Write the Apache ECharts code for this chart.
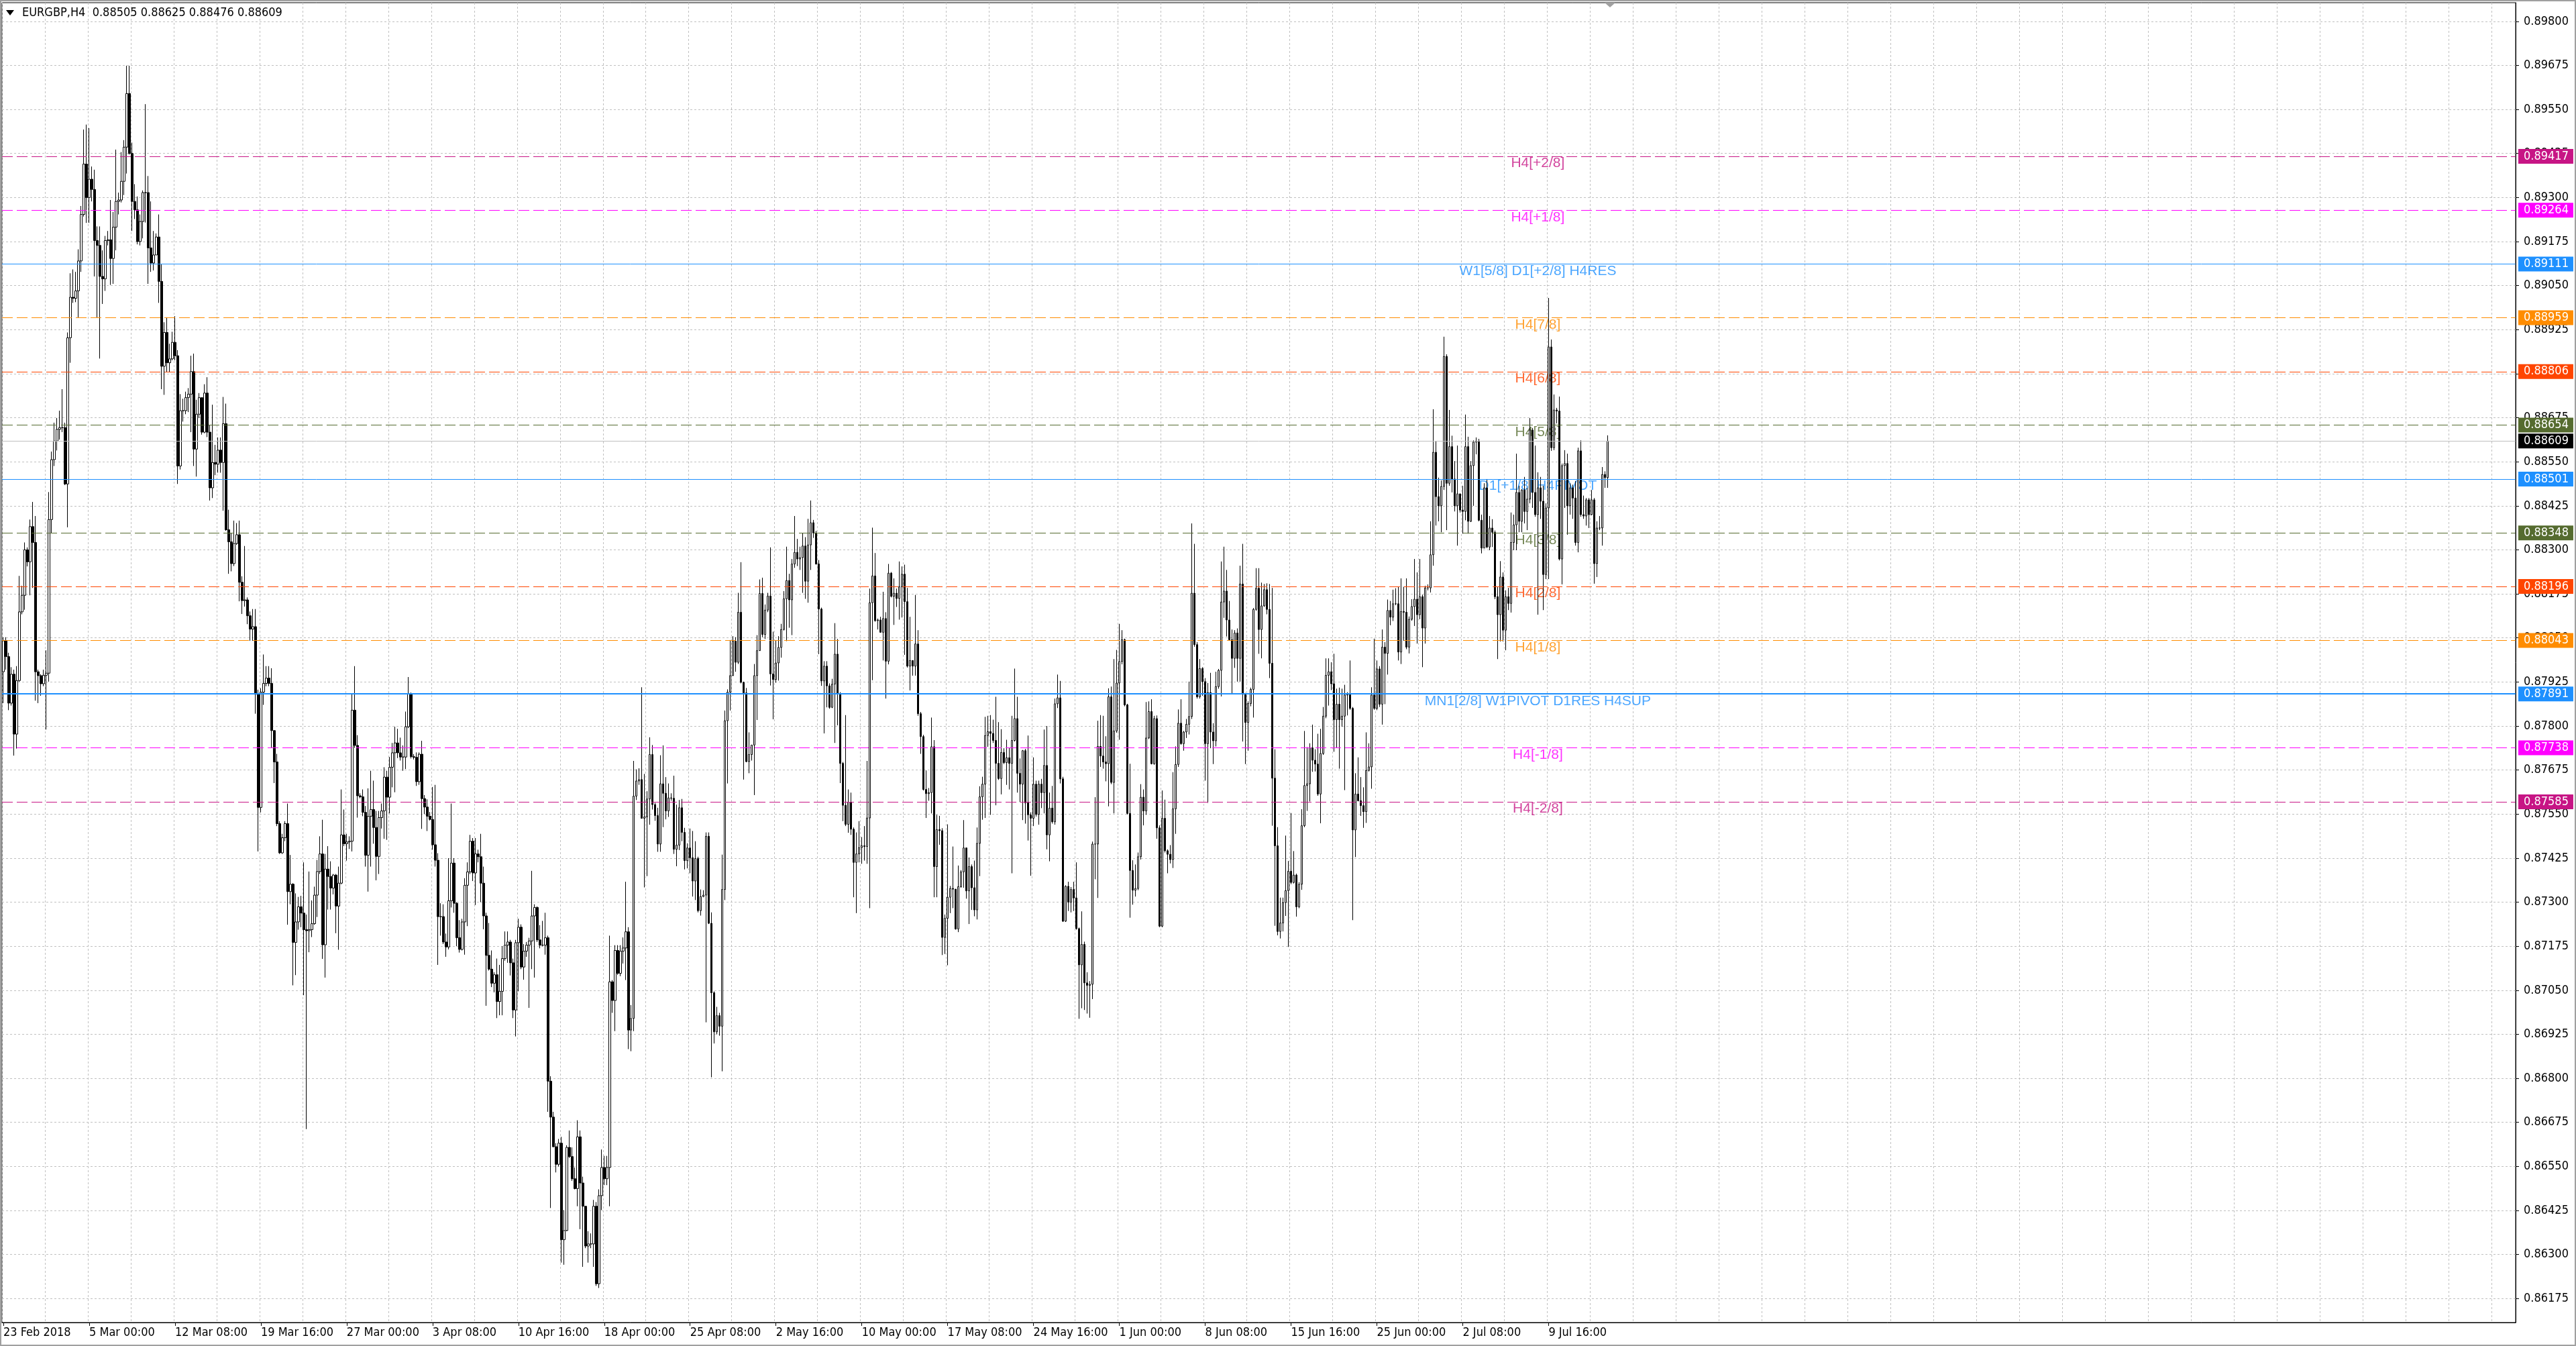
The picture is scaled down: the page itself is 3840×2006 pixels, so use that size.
<!DOCTYPE html>
<html>
<head>
<meta charset="utf-8">
<title>EURGBP,H4</title>
<script src="https://cdn.jsdelivr.net/npm/echarts@6.0.0/dist/echarts.min.js"></script>
<style>
  html, body { margin: 0; padding: 0; background: #ffffff; }
  #chart { width: 3840px; height: 2006px; }
</style>
</head>
<body>
<div id="chart"></div>
<script>
// EURGBP H4 candles, prices in points (1e-5)
var symbolName = 'EURGBP,H4';

var xTickLabels = ['23 Feb 2018', '5 Mar 00:00', '12 Mar 08:00', '19 Mar 16:00', '27 Mar 00:00',
  '3 Apr 08:00', '10 Apr 16:00', '18 Apr 00:00', '25 Apr 08:00', '2 May 16:00', '10 May 00:00',
  '17 May 08:00', '24 May 16:00', '1 Jun 00:00', '8 Jun 08:00', '15 Jun 16:00', '25 Jun 00:00',
  '2 Jul 08:00', '9 Jul 16:00'];

var yTickValues = [0.86175, 0.86300, 0.86425, 0.86550, 0.86675, 0.86800, 0.86925, 0.87050,
  0.87175, 0.87300, 0.87425, 0.87550, 0.87675, 0.87800, 0.87925, 0.88050, 0.88175, 0.88300,
  0.88425, 0.88550, 0.88675, 0.88800, 0.88925, 0.89050, 0.89175, 0.89300, 0.89425, 0.89550,
  0.89675, 0.89800];

var opens = [
  87954, 88042, 87997, 87865, 87947, 87777, 87929, 88124, 88171, 88300,
  88266, 88366, 88321, 87954, 87943, 87920, 87944, 87950, 88386, 88556,
  88609, 88642, 88647, 88647, 88487, 88902, 89017, 89014, 89035, 89120,
  89252, 89395, 89300, 89352, 89323, 89178, 89164, 89076, 89069, 89178,
  89180, 89127, 89216, 89289, 89293, 89346, 89443, 89595, 89425, 89289,
  89265, 89175, 89232, 89314, 89314, 89157, 89114, 89137, 89188, 89062,
  88821, 88917, 88831, 88842, 88889, 88851, 88538, 88695, 88695, 88732,
  88742, 88806, 88586, 88685, 88732, 88634, 88745, 88634, 88476, 88548,
  88543, 88583, 88548, 88658, 88357, 88323, 88261, 88318, 88343, 88208,
  88156, 88158, 88113, 88075, 88082, 87890, 87569, 87896, 87921, 87936,
  87921, 87787, 87698, 87523, 87440, 87483, 87523, 87330, 87351, 87186,
  87244, 87287, 87269, 87222, 87219, 87222, 87239, 87320, 87387, 87437,
  87179, 87394, 87373, 87340, 87377, 87289, 87354, 87491, 87466, 87471,
  87473, 87845, 87745, 87602, 87599, 87555, 87433, 87544, 87563, 87512,
  87430, 87540, 87559, 87655, 87598, 87683, 87724, 87752, 87724, 87712,
  87712, 87798, 87892, 87713, 87711, 87642, 87720, 87594, 87570, 87544,
  87535, 87463, 87419, 87259, 87259, 87187, 87173, 87304, 87411, 87297,
  87199, 87166, 87244, 87348, 87386, 87473, 87383, 87437, 87429, 87354,
  87261, 87149, 87110, 87070, 87094, 87018, 87047, 87140, 87178, 87187,
  87128, 86994, 87185, 87229, 87116, 87161, 87178, 87190, 87261, 87285,
  87193, 87178, 87178, 87199, 86792, 86690, 86606, 86556, 86616, 86342,
  86368, 86604, 86578, 86515, 86487, 86634, 86503, 86437, 86324, 86330,
  86330, 86437, 86217, 86467, 86547, 86515, 86547, 87074, 87021, 87163,
  87098, 87161, 87170, 87216, 86937, 86970, 87601, 87644, 87648, 87538,
  87542, 87593, 87719, 87577, 87546, 87465, 87636, 87609, 87559, 87596,
  87595, 87450, 87462, 87568, 87498, 87418, 87454, 87426, 87360, 87424,
  87276, 87316, 87320, 87487, 87240, 87043, 86932, 86978, 86948, 87336,
  87815, 87896, 87943, 88041, 87981, 88123, 87924, 87894, 87699, 87719,
  87746, 87943, 88014, 88176, 88060, 88129, 88169, 87948, 87932, 87979,
  88023, 88074, 88161, 88213, 88158, 88260, 88293, 88274, 88278, 88311,
  88211, 88314, 88377, 88348, 88260, 88132, 87928, 87970, 87914, 87853,
  87919, 88004, 87892, 87694, 87575, 87521, 87584, 87507, 87413, 87437,
  87455, 87460, 87458, 87539, 88150, 88226, 88099, 88101, 88066, 88105,
  87984, 88234, 88168, 88177, 88162, 88195, 88231, 88153, 87970, 87986,
  87970, 88033, 87835, 87770, 87620, 87608, 87611, 87741, 87401, 87506,
  87503, 87200, 87254, 87314, 87339, 87337, 87224, 87344, 87386, 87454,
  87332, 87401, 87341, 87278, 87467, 87599, 87635, 87773, 87784, 87779,
  87759, 87694, 87651, 87725, 87696, 87710, 87694, 87759, 87821, 87666,
  87635, 87730, 87582, 87548, 87538, 87635, 87549, 87635, 87611, 87688,
  87491, 87567, 87528, 87863, 87880, 87650, 87246, 87345, 87300, 87336,
  87312, 87225, 87122, 87180, 87071, 87064, 87067, 87465, 87465, 87742,
  87715, 87698, 87693, 87883, 87640, 87786, 87922, 87983, 88045, 87860,
  87552, 87390, 87334, 87339, 87429, 87598, 87559, 87766, 87841, 87693,
  87821, 87511, 87232, 87538, 87446, 87436, 87421, 87565, 87691, 87808,
  87750, 87783, 87805, 87827, 88177, 88031, 87883, 87963, 87926, 87750,
  87895, 87783, 87758, 87912, 87958, 88152, 88183, 88101, 88045, 87992,
  88064, 87992, 88203, 87890, 87810, 87864, 87904, 88131, 88191, 88074,
  88141, 88187, 88131, 87978, 87652, 87460, 87217, 87241, 87299, 87333,
  87388, 87356, 87377, 87287, 87351, 87517, 87631, 87636, 87738, 87703,
  87692, 87607, 87722, 87828, 87944, 87954, 87920, 87818, 87862, 87818,
  87828, 87888, 87889, 87850, 87505, 87607, 87588, 87574, 87557, 87674,
  87684, 87888, 87850, 87962, 87862, 88024, 88006, 88128, 88109, 88147,
  88147, 88010, 88125, 88123, 88024, 88103, 88139, 88160, 88116, 88167,
  88078, 88192, 88192, 88286, 88577, 88451, 88425, 88480, 88849, 88489,
  88593, 88501, 88425, 88459, 88413, 88409, 88593, 88381, 88539, 88606,
  88609, 88384, 88305, 88476, 88308, 88362, 88350, 88167, 88116, 88223,
  88072, 88167, 88148, 88321, 88371, 88463, 88381, 88470, 88409, 88444,
  88640, 88463, 88400, 88476, 88438, 88230, 88419, 88876, 88590, 88697,
  88694, 88274, 88539, 88545, 88425, 88476, 88447, 88321, 88581, 88400,
  88396, 88442, 88400, 88442, 88261, 88362, 88362, 88514, 88505
];

var highs = [
  88052, 88052, 88008, 87967, 87960, 87970, 88226, 88198, 88321, 88307,
  88386, 88436, 88396, 87960, 87947, 87960, 88015, 88464, 88579, 88661,
  88674, 88695, 88756, 88661, 88917, 89085, 89096, 89089, 89153, 89276,
  89493, 89507, 89497, 89388, 89379, 89218, 89218, 89150, 89191, 89205,
  89293, 89259, 89436, 89314, 89429, 89463, 89674, 89674, 89456, 89338,
  89303, 89252, 89320, 89565, 89361, 89289, 89205, 89198, 89252, 89110,
  88946, 88960, 88885, 88919, 88963, 88867, 88742, 88729, 88749, 88759,
  88851, 88857, 88726, 88745, 88732, 88770, 88790, 88655, 88712, 88598,
  88619, 88619, 88734, 88715, 88414, 88347, 88383, 88376, 88383, 88225,
  88311, 88165, 88125, 88132, 88132, 87903, 87907, 88003, 87970, 87970,
  87964, 87788, 87721, 87530, 87494, 87530, 87580, 87434, 87354, 87325,
  87315, 87318, 87413, 87265, 87387, 87305, 87344, 87420, 87487, 87534,
  87437, 87459, 87416, 87380, 87380, 87401, 87620, 87563, 87494, 87487,
  87891, 87970, 87774, 87609, 87620, 87573, 87623, 87673, 87645, 87559,
  87559, 87580, 87683, 87673, 87712, 87752, 87798, 87792, 87767, 87745,
  87841, 87939, 87895, 87720, 87725, 87725, 87758, 87604, 87592, 87556,
  87627, 87633, 87439, 87297, 87294, 87211, 87425, 87580, 87425, 87300,
  87249, 87253, 87368, 87413, 87491, 87482, 87482, 87449, 87494, 87401,
  87270, 87241, 87163, 87101, 87140, 87122, 87175, 87217, 87217, 87193,
  87140, 87193, 87253, 87237, 87181, 87187, 87199, 87389, 87294, 87288,
  87235, 87247, 87270, 87205, 86806, 86705, 86616, 86628, 86634, 86426,
  86610, 86652, 86604, 86547, 86681, 86652, 86521, 86437, 86366, 86360,
  86455, 86449, 86485, 86598, 86580, 86580, 87205, 87079, 87178, 87178,
  87178, 87200, 87358, 87229, 87008, 87701, 87677, 87680, 87910, 87664,
  87615, 87768, 87746, 87582, 87568, 87717, 87745, 87655, 87637, 87609,
  87659, 87577, 87590, 87593, 87511, 87467, 87509, 87502, 87473, 87429,
  87336, 87334, 87498, 87498, 87271, 87047, 87003, 86986, 87435, 87844,
  87904, 88044, 88055, 88052, 88178, 88265, 87926, 87908, 87782, 87746,
  87976, 88058, 88216, 88221, 88145, 88178, 88307, 88068, 88044, 88055,
  88090, 88183, 88309, 88232, 88274, 88396, 88331, 88309, 88347, 88336,
  88388, 88440, 88385, 88354, 88271, 88136, 87984, 87984, 87921, 87934,
  88092, 88047, 87896, 87698, 87831, 87620, 87611, 87512, 87498, 87530,
  87485, 87516, 87701, 88190, 88363, 88291, 88105, 88110, 88181, 88123,
  88260, 88237, 88219, 88190, 88267, 88253, 88258, 88192, 88110, 87986,
  88172, 88072, 87840, 87775, 87674, 87624, 87824, 87760, 87548, 87545,
  87510, 87265, 87521, 87346, 87458, 87337, 87404, 87391, 87533, 87455,
  87427, 87407, 87418, 87512, 87629, 87656, 87826, 87829, 87831, 87818,
  87883, 87811, 87791, 87737, 87761, 87739, 87829, 87963, 87883, 87708,
  87732, 87735, 87773, 87555, 87711, 87645, 87645, 87650, 87790, 87800,
  87611, 87630, 87878, 87946, 87928, 87656, 87348, 87358, 87343, 87358,
  87413, 87228, 87274, 87188, 87101, 87076, 87472, 87598, 87815, 87831,
  87829, 87771, 87907, 87912, 87990, 88016, 88090, 88072, 88048, 87863,
  87693, 87419, 87407, 87441, 87635, 87620, 87868, 87870, 87876, 87829,
  87830, 87518, 87617, 87591, 87450, 87462, 87669, 87742, 87847, 87876,
  87786, 87820, 87926, 88375, 88317, 88038, 87990, 87967, 87936, 87922,
  87951, 87808, 87954, 87962, 88267, 88309, 88243, 88155, 88074, 88072,
  88077, 88255, 88317, 87894, 87870, 87909, 88135, 88248, 88248, 88207,
  88203, 88205, 88203, 88192, 87734, 87513, 87313, 87313, 87489, 87417,
  87553, 87445, 87381, 87357, 87564, 87786, 87740, 87751, 87804, 87734,
  87778, 87792, 87854, 87992, 87992, 87981, 88005, 87906, 87909, 87906,
  87917, 87896, 87986, 87854, 87666, 87711, 87655, 87626, 87782, 87751,
  87910, 88048, 87986, 87970, 88074, 88038, 88159, 88155, 88187, 88191,
  88195, 88219, 88195, 88219, 88111, 88160, 88274, 88236, 88274, 88173,
  88198, 88202, 88381, 88699, 88609, 88505, 88497, 88905, 88855, 88697,
  88624, 88552, 88596, 88459, 88482, 88684, 88621, 88552, 88611, 88619,
  88615, 88400, 88489, 88501, 88396, 88387, 88355, 88194, 88268, 88236,
  88185, 88192, 88406, 88400, 88573, 88482, 88472, 88507, 88476, 88674,
  88646, 88596, 88520, 88507, 88482, 88432, 89015, 88897, 88741, 88703,
  88735, 88545, 88583, 88573, 88489, 88485, 88495, 88590, 88611, 88454,
  88447, 88447, 88470, 88447, 88381, 88396, 88535, 88523, 88625
];

var lows = [
  87865, 87960, 87845, 87858, 87716, 87736, 87926, 88117, 88130, 88253,
  88171, 88192, 87872, 87865, 87886, 87913, 87790, 87926, 88348, 88538,
  88582, 88613, 88634, 88484, 88364, 88831, 89001, 89003, 88960, 89089,
  89246, 89228, 89228, 89289, 89076, 88960, 88843, 88998, 89035, 89164,
  89052, 89055, 89150, 89252, 89286, 89307, 89368, 89422, 89205, 89239,
  89167, 89164, 89184, 89229, 89055, 89089, 89093, 89137, 89001, 88756,
  88740, 88804, 88804, 88838, 88838, 88487, 88528, 88664, 88685, 88691,
  88634, 88538, 88508, 88674, 88627, 88631, 88620, 88440, 88447, 88512,
  88519, 88519, 88411, 88354, 88232, 88239, 88254, 88314, 88154, 88118,
  88139, 88089, 88042, 88042, 87835, 87444, 87555, 87860, 87913, 87913,
  87738, 87638, 87516, 87437, 87437, 87473, 87236, 87294, 87064, 87093,
  87222, 87229, 87036, 86656, 87158, 87201, 87236, 87258, 87380, 87139,
  87086, 87279, 87279, 87322, 87212, 87165, 87351, 87459, 87418, 87451,
  87444, 87738, 87540, 87595, 87544, 87401, 87330, 87401, 87466, 87362,
  87380, 87509, 87480, 87477, 87552, 87626, 87612, 87709, 87702, 87673,
  87678, 87794, 87708, 87705, 87630, 87633, 87508, 87550, 87502, 87532,
  87449, 87401, 87122, 87205, 87181, 87145, 87166, 87285, 87270, 87175,
  87157, 87163, 87151, 87232, 87380, 87360, 87292, 87413, 87300, 87223,
  87006, 87106, 87059, 87044, 86971, 86979, 86979, 87134, 87128, 87092,
  86971, 86919, 87047, 87110, 87080, 87145, 87000, 87110, 87086, 87187,
  87169, 87175, 87151, 86705, 86432, 86604, 86533, 86550, 86277, 86271,
  86366, 86574, 86509, 86485, 86437, 86372, 86265, 86318, 86277, 86318,
  86265, 86211, 86205, 86426, 86497, 86497, 86437, 86986, 86934, 87094,
  87090, 87126, 87079, 86883, 86877, 86934, 87590, 87633, 87538, 87342,
  87374, 87520, 87563, 87531, 87443, 87443, 87513, 87535, 87542, 87588,
  87437, 87402, 87448, 87473, 87393, 87396, 87382, 87316, 87306, 87271,
  87262, 87314, 86959, 87238, 86803, 86899, 86925, 86921, 86820, 87306,
  87637, 87844, 87943, 87954, 87976, 87921, 87648, 87697, 87666, 87702,
  87604, 87817, 88014, 88052, 88047, 88123, 87915, 87819, 87923, 87929,
  87994, 88071, 88041, 88079, 88058, 88249, 88254, 88243, 88178, 88161,
  88150, 88243, 88334, 88258, 88004, 87914, 87779, 87853, 87849, 87851,
  87752, 87802, 87638, 87530, 87516, 87497, 87491, 87314, 87269, 87413,
  87409, 87418, 87409, 87283, 87930, 88096, 88074, 88065, 87986, 87878,
  87975, 88165, 88087, 88138, 88102, 88108, 88002, 87966, 87901, 87943,
  87943, 87829, 87721, 87617, 87539, 87588, 87552, 87314, 87314, 87463,
  87150, 87153, 87121, 87269, 87283, 87222, 87215, 87341, 87341, 87310,
  87238, 87278, 87260, 87251, 87374, 87534, 87539, 87741, 87548, 87752,
  87575, 87647, 87606, 87692, 87633, 87620, 87382, 87756, 87611, 87584,
  87533, 87523, 87475, 87375, 87516, 87543, 87520, 87567, 87552, 87450,
  87416, 87523, 87520, 87851, 87637, 87244, 87244, 87275, 87271, 87275,
  87222, 86969, 86999, 86994, 86984, 86972, 87025, 87365, 87312, 87684,
  87679, 87643, 87572, 87635, 87552, 87781, 87761, 87975, 87856, 87549,
  87256, 87293, 87316, 87334, 87421, 87518, 87548, 87763, 87691, 87690,
  87480, 87229, 87229, 87441, 87382, 87410, 87397, 87494, 87684, 87747,
  87730, 87766, 87776, 87820, 88025, 87878, 87878, 87886, 87645, 87582,
  87737, 87692, 87742, 87906, 87884, 88107, 88054, 88042, 87890, 87965,
  87926, 87926, 87756, 87692, 87730, 87856, 87824, 88127, 88005, 87992,
  88138, 88117, 87936, 87517, 87233, 87206, 87197, 87217, 87261, 87173,
  87351, 87353, 87259, 87283, 87335, 87513, 87559, 87586, 87670, 87671,
  87602, 87524, 87718, 87822, 87858, 87902, 87727, 87738, 87679, 87798,
  87618, 87830, 87846, 87249, 87428, 87586, 87545, 87511, 87525, 87671,
  87622, 87846, 87845, 87854, 87804, 87862, 87946, 88086, 88098, 88143,
  87986, 87976, 88042, 88018, 88006, 88099, 88084, 88034, 88103, 87967,
  88034, 88185, 88179, 88255, 88369, 88381, 88350, 88470, 88356, 88482,
  88463, 88409, 88312, 88406, 88346, 88384, 88346, 88379, 88425, 88571,
  88381, 88290, 88305, 88305, 88299, 88308, 88160, 87990, 88040, 88040,
  88015, 88129, 88122, 88299, 88299, 88350, 88350, 88375, 88356, 88432,
  88419, 88394, 88116, 88388, 88129, 88217, 88217, 88581, 88583, 88659,
  88270, 88202, 88419, 88343, 88400, 88388, 88312, 88293, 88394, 88388,
  88369, 88362, 88398, 88204, 88223, 88356, 88312, 88476, 88476
];

var closes = [
  88042, 87997, 87865, 87947, 87777, 87929, 88124, 88171, 88300, 88266,
  88366, 88321, 87954, 87943, 87920, 87944, 87950, 88386, 88556, 88609,
  88642, 88647, 88647, 88487, 88902, 89017, 89014, 89035, 89120, 89252,
  89395, 89300, 89352, 89323, 89178, 89164, 89076, 89069, 89178, 89180,
  89127, 89216, 89289, 89293, 89346, 89443, 89595, 89425, 89289, 89265,
  89175, 89232, 89314, 89314, 89157, 89114, 89137, 89188, 89062, 88821,
  88917, 88831, 88842, 88889, 88851, 88538, 88695, 88695, 88732, 88742,
  88806, 88586, 88685, 88732, 88634, 88745, 88634, 88476, 88548, 88543,
  88583, 88548, 88658, 88357, 88323, 88261, 88318, 88343, 88208, 88156,
  88158, 88113, 88075, 88082, 87890, 87569, 87896, 87921, 87936, 87921,
  87787, 87698, 87523, 87440, 87483, 87523, 87330, 87351, 87186, 87244,
  87287, 87269, 87222, 87219, 87222, 87239, 87320, 87387, 87437, 87179,
  87394, 87373, 87340, 87377, 87289, 87354, 87491, 87466, 87471, 87473,
  87845, 87745, 87602, 87599, 87555, 87433, 87544, 87563, 87512, 87430,
  87540, 87559, 87655, 87598, 87683, 87724, 87752, 87724, 87712, 87712,
  87798, 87892, 87713, 87711, 87642, 87720, 87594, 87570, 87544, 87535,
  87463, 87419, 87259, 87259, 87187, 87173, 87304, 87411, 87297, 87199,
  87166, 87244, 87348, 87386, 87473, 87383, 87437, 87429, 87354, 87261,
  87149, 87110, 87070, 87094, 87018, 87047, 87140, 87178, 87187, 87128,
  86994, 87185, 87229, 87116, 87161, 87178, 87190, 87261, 87285, 87193,
  87178, 87178, 87199, 86792, 86690, 86606, 86556, 86616, 86342, 86368,
  86604, 86578, 86515, 86487, 86634, 86503, 86437, 86324, 86330, 86330,
  86437, 86217, 86467, 86547, 86515, 86547, 87074, 87021, 87163, 87098,
  87161, 87170, 87216, 86937, 86970, 87601, 87644, 87648, 87538, 87542,
  87593, 87719, 87577, 87546, 87465, 87636, 87609, 87559, 87596, 87595,
  87450, 87462, 87568, 87498, 87418, 87454, 87426, 87360, 87424, 87276,
  87316, 87320, 87487, 87240, 87043, 86932, 86978, 86948, 87336, 87815,
  87896, 87943, 88041, 87981, 88123, 87924, 87894, 87699, 87719, 87746,
  87943, 88014, 88176, 88060, 88129, 88169, 87948, 87932, 87979, 88023,
  88074, 88161, 88213, 88158, 88260, 88293, 88274, 88278, 88311, 88211,
  88314, 88377, 88348, 88260, 88132, 87928, 87970, 87914, 87853, 87919,
  88004, 87892, 87694, 87575, 87521, 87584, 87507, 87413, 87437, 87455,
  87460, 87458, 87539, 88150, 88226, 88099, 88101, 88066, 88105, 87984,
  88234, 88168, 88177, 88162, 88195, 88231, 88153, 87970, 87986, 87970,
  88033, 87835, 87770, 87620, 87608, 87611, 87741, 87401, 87506, 87503,
  87200, 87254, 87314, 87339, 87337, 87224, 87344, 87386, 87454, 87332,
  87401, 87341, 87278, 87467, 87599, 87635, 87773, 87784, 87779, 87759,
  87694, 87651, 87725, 87696, 87710, 87694, 87759, 87821, 87666, 87635,
  87730, 87582, 87548, 87538, 87635, 87549, 87635, 87611, 87688, 87491,
  87567, 87528, 87863, 87880, 87650, 87246, 87345, 87300, 87336, 87312,
  87225, 87122, 87180, 87071, 87064, 87067, 87465, 87465, 87742, 87715,
  87698, 87693, 87883, 87640, 87786, 87922, 87983, 88045, 87860, 87552,
  87390, 87334, 87339, 87429, 87598, 87559, 87766, 87841, 87693, 87821,
  87511, 87232, 87538, 87446, 87436, 87421, 87565, 87691, 87808, 87750,
  87783, 87805, 87827, 88177, 88031, 87883, 87963, 87926, 87750, 87895,
  87783, 87758, 87912, 87958, 88152, 88183, 88101, 88045, 87992, 88064,
  87992, 88203, 87890, 87810, 87864, 87904, 88131, 88191, 88074, 88141,
  88187, 88131, 87978, 87652, 87460, 87217, 87241, 87299, 87333, 87388,
  87356, 87377, 87287, 87351, 87517, 87631, 87636, 87738, 87703, 87692,
  87607, 87722, 87828, 87944, 87954, 87920, 87818, 87862, 87818, 87828,
  87888, 87889, 87850, 87505, 87607, 87588, 87574, 87557, 87674, 87684,
  87888, 87850, 87962, 87862, 88024, 88006, 88128, 88109, 88147, 88147,
  88010, 88125, 88123, 88024, 88103, 88139, 88160, 88116, 88167, 88078,
  88192, 88192, 88286, 88577, 88451, 88425, 88480, 88849, 88489, 88593,
  88501, 88425, 88459, 88413, 88409, 88593, 88381, 88539, 88606, 88609,
  88384, 88305, 88476, 88308, 88362, 88350, 88167, 88116, 88223, 88072,
  88167, 88148, 88321, 88371, 88463, 88381, 88470, 88409, 88444, 88640,
  88463, 88400, 88476, 88438, 88230, 88419, 88876, 88590, 88697, 88694,
  88274, 88539, 88545, 88425, 88476, 88447, 88321, 88581, 88400, 88396,
  88442, 88400, 88442, 88261, 88362, 88362, 88514, 88505, 88609
];

// Murrey / pivot levels drawn by the indicator
var levelPrices = [0.89417, 0.89264, 0.89111, 0.88959, 0.88806, 0.88654, 0.88501,
  0.88348, 0.88196, 0.88043, 0.87891, 0.87738, 0.87585];
var levelNames = ['H4[+2/8]', 'H4[+1/8]', 'W1[5/8] D1[+2/8] H4RES', 'H4[7/8]', 'H4[6/8]',
  'H4[5/8]', 'D1[+1/8] H4PIVOT', 'H4[3/8]', 'H4[2/8]', 'H4[1/8]',
  'MN1[2/8] W1PIVOT D1RES H4SUP', 'H4[-1/8]', 'H4[-2/8]'];

// styling
var levelColors = ['#C71585', '#FF00FF', '#1E90FF', '#FF8C00', '#FF4500', '#556B2F', '#1E90FF',
  '#556B2F', '#FF4500', '#FF8C00', '#1E90FF', '#FF00FF', '#C71585'];
var levelSolid = [false, false, true, false, false, false, true, false, false, false, true, false, false];
var levelWidths = [1, 1, 1, 1, 1, 1, 1, 1, 1, 1, 2, 1, 1];
var levelLabelBar = 572;
var slotCount = 937;
var barsPerLabel = 32;
var barsPerGrid = 16;
var uiFont = "'DejaVu Sans Condensed', 'Liberation Sans', sans-serif";
var levelFont = "'Liberation Sans', Arial, sans-serif";

var chart = echarts.init(document.getElementById('chart'));

var categories = [];
for (var i = 0; i < slotCount; i++) {
    categories.push(String(i));
}

var candles = closes.map(function (c, k) {
    return [opens[k] / 1e5, c / 1e5, lows[k] / 1e5, highs[k] / 1e5];
});

var last = closes.length - 1;
var headerText = symbolName + '  ' + [opens[last], highs[last], lows[last], closes[last]]
    .map(function (v) { return (v / 1e5).toFixed(5); }).join(' ');

function isLabelSlot(index) {
    return index % barsPerLabel === 0 && index / barsPerLabel < xTickLabels.length;
}

var lineData = levelPrices.map(function (p, k) {
    return {
        yAxis: p,
        lineStyle: {
            color: levelColors[k],
            width: levelWidths[k],
            type: levelSolid[k] ? 'solid' : [16, 6]
        },
        label: { backgroundColor: levelColors[k] }
    };
});
lineData.push({
    yAxis: closes[last] / 1e5,
    lineStyle: { color: '#C0C0C0', width: 1, type: 'solid' },
    label: { backgroundColor: '#000000' }
});

var option = {
    animation: false,
    backgroundColor: '#ffffff',
    grid: {
        left: 3, right: 90, top: 4, bottom: 35,
        show: true, borderColor: '#000000', borderWidth: 1, backgroundColor: '#ffffff'
    },
    xAxis: {
        type: 'category',
        data: categories,
        boundaryGap: true,
        axisLine: { show: true, lineStyle: { color: '#000000', width: 1 } },
        axisTick: {
            show: true, length: 5, alignWithLabel: true,
            interval: function (index) { return isLabelSlot(index); },
            lineStyle: { color: '#000000' }
        },
        axisLabel: {
            show: true,
            interval: function (index) { return isLabelSlot(index); },
            formatter: function (value, index) {
                return xTickLabels[Number(value) / barsPerLabel] || '';
            },
            align: 'left',
            margin: 6,
            color: '#000000',
            fontFamily: uiFont,
            fontSize: 18
        },
        splitLine: {
            show: true,
            interval: function (index) { return index % barsPerGrid === 0; },
            lineStyle: { color: '#C0C0C0', width: 1, type: [3, 3] }
        }
    },
    yAxis: {
        type: 'value',
        position: 'right',
        min: 0.86107,
        max: 0.89853,
        axisLine: { show: true, lineStyle: { color: '#000000', width: 1 } },
        axisTick: {
            show: true, length: 5, customValues: yTickValues,
            lineStyle: { color: '#000000' }
        },
        axisLabel: {
            show: true,
            customValues: yTickValues,
            formatter: function (v) { return Number(v).toFixed(5); },
            margin: 12,
            color: '#000000',
            fontFamily: uiFont,
            fontSize: 18
        },
        splitLine: {
            show: true,
            lineStyle: { color: '#C0C0C0', width: 1, type: [3, 3] }
        }
    },
    graphic: [
        {
            type: 'rect', silent: true, z: 100,
            shape: { x: 0, y: 0, width: 3840, height: 2006 },
            style: { fill: 'none', stroke: '#A0A0A0', lineWidth: 4 }
        },
        {
            type: 'polygon', silent: true, z: 100,
            shape: { points: [[9, 15], [21, 15], [15, 23]] },
            style: { fill: '#000000' }
        },
        {
            type: 'text', silent: true, z: 100,
            left: 33, top: 10,
            style: { text: headerText, fill: '#000000', font: '18px ' + uiFont }
        },
        {
            type: 'polygon', silent: true, z: 100,
            shape: { points: [[2392, 4], [2408, 4], [2400, 11]] },
            style: { fill: '#A0A0A0' }
        }
    ],
    series: [
        {
            name: 'levels',
            type: 'scatter',
            z: 1,
            silent: true,
            symbolSize: 0,
            data: levelPrices.map(function (p, k) {
                return { value: [levelLabelBar, p], label: { color: levelColors[k] } };
            }),
            label: {
                show: true,
                position: 'bottom',
                distance: 0,
                formatter: function (p) { return levelNames[p.dataIndex]; },
                fontFamily: levelFont,
                fontSize: 21
            },
            markLine: {
                silent: true,
                animation: false,
                precision: 5,
                symbol: ['none', 'none'],
                label: {
                    show: true,
                    position: 'end',
                    distance: 4,
                    formatter: function (p) { return Number(p.value).toFixed(5); },
                    color: '#ffffff',
                    fontFamily: uiFont,
                    fontSize: 18,
                    lineHeight: 19,
                    padding: [2, 7, 1, 8]
                },
                data: lineData
            }
        },
        {
            name: symbolName,
            type: 'candlestick',
            z: 3,
            large: false,
            barWidth: 3,
            data: candles,
            itemStyle: {
                color: '#ffffff',
                color0: '#000000',
                borderColor: '#000000',
                borderColor0: '#000000',
                borderWidth: 1
            },
            emphasis: { disabled: true }
        }
    ]
};

chart.setOption(option);
</script>
</body>
</html>
